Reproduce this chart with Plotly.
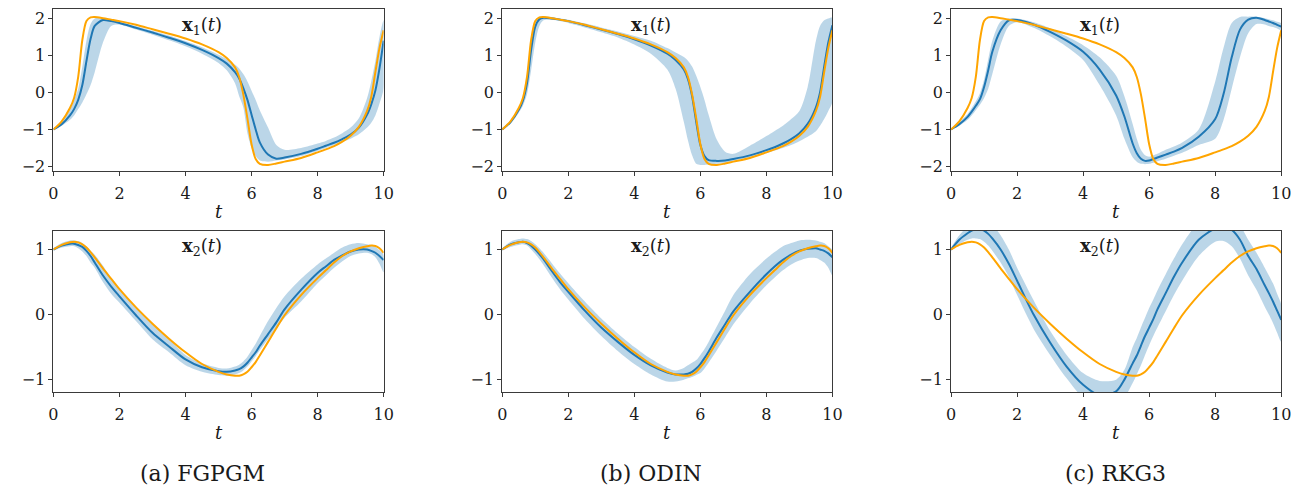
import plotly.graph_objects as go

# time grid shared by every series (denser where the trajectories switch quickly)
T = [0, 0.25, 0.5, 0.625, 0.75, 0.875, 1.0, 1.125, 1.25, 1.5,
     1.75, 2, 2.5, 3, 3.5, 4, 4.5, 5, 5.25, 5.5,
     5.625, 5.75, 5.875, 6, 6.125, 6.25, 6.5, 6.75, 7, 7.5,
     8, 8.25, 8.5, 8.75, 9, 9.25, 9.5, 9.625, 9.75, 9.875, 10]

# ground-truth trajectory
true_x1 = [-1.0, -0.78, -0.42, -0.15, 0.42, 1.42, 1.93, 2.03, 2.04, 2.01,
           1.97, 1.93, 1.83, 1.71, 1.59, 1.46, 1.3, 1.09, 0.93, 0.68,
           0.42, -0.05, -0.7, -1.4, -1.8, -1.93, -1.96, -1.92, -1.87, -1.77,
           -1.62, -1.54, -1.45, -1.33, -1.17, -0.93, -0.5, -0.12, 0.55, 1.2, 1.68]
true_x2 = [1.0, 1.07, 1.11, 1.12, 1.11, 1.08, 1.03, 0.96, 0.88, 0.71,
           0.55, 0.39, 0.11, -0.14, -0.37, -0.58, -0.76, -0.88, -0.92, -0.94,
           -0.94, -0.92, -0.88, -0.81, -0.73, -0.63, -0.42, -0.21, -0.01, 0.3,
           0.56, 0.68, 0.8, 0.9, 0.97, 1.02, 1.05, 1.06, 1.055, 1.02, 0.95]

# FGPGM: mean and interval
fgpgm_x1 = [-1.0, -0.86, -0.62, -0.45, -0.2, 0.2, 0.85, 1.45, 1.8, 1.96,
            1.93, 1.88, 1.75, 1.62, 1.48, 1.33, 1.15, 0.93, 0.78, 0.55,
            0.38, 0.12, -0.2, -0.6, -1.0, -1.35, -1.68, -1.79, -1.76, -1.66,
            -1.52, -1.44, -1.36, -1.26, -1.14, -0.95, -0.6, -0.32, 0.05, 0.65, 1.4]
fgpgm_x1_lo = [-1.0, -0.9, -0.74, -0.62, -0.45, -0.27, -0.05, 0.2, 0.55, 1.35,
               1.8, 1.84, 1.7, 1.56, 1.41, 1.25, 1.05, 0.8, 0.6, 0.25,
               -0.1, -0.4, -1.1, -1.5, -1.72, -1.84, -1.87, -1.84, -1.81, -1.72,
               -1.58, -1.5, -1.42, -1.34, -1.25, -1.13, -0.95, -0.82, -0.62, -0.3, 0.1]
fgpgm_x1_hi = [-1.0, -0.78, -0.45, -0.2, 0.1, 0.7, 1.4, 1.85, 2.0, 2.0,
               1.97, 1.92, 1.79, 1.67, 1.54, 1.39, 1.22, 1.02, 0.9, 0.75,
               0.65, 0.5, 0.3, 0.05, -0.2, -0.48, -0.95, -1.42, -1.55, -1.5,
               -1.38, -1.31, -1.22, -1.1, -0.95, -0.7, -0.15, 0.3, 0.85, 1.5, 1.95]
fgpgm_x2 = [1.0, 1.06, 1.09, 1.09, 1.07, 1.04, 0.98, 0.9, 0.8, 0.6,
            0.43, 0.28, -0.01, -0.28, -0.49, -0.69, -0.81, -0.87, -0.88, -0.86,
            -0.84, -0.8, -0.74, -0.66, -0.58, -0.48, -0.3, -0.12, 0.08, 0.38,
            0.64, 0.74, 0.84, 0.91, 0.97, 1.0, 1.0, 0.98, 0.95, 0.9, 0.84]
fgpgm_x2_lo = [0.98, 1.03, 1.05, 1.05, 1.02, 0.97, 0.9, 0.8, 0.72, 0.5,
               0.32, 0.18, -0.1, -0.38, -0.58, -0.78, -0.88, -0.93, -0.94, -0.92,
               -0.9, -0.86, -0.8, -0.72, -0.64, -0.55, -0.38, -0.22, -0.05, 0.2,
               0.48, 0.6, 0.72, 0.82, 0.9, 0.94, 0.95, 0.93, 0.88, 0.78, 0.65]
fgpgm_x2_hi = [1.02, 1.1, 1.14, 1.14, 1.13, 1.1, 1.05, 0.98, 0.92, 0.75,
               0.55, 0.38, 0.1, -0.15, -0.38, -0.62, -0.75, -0.82, -0.83, -0.8,
               -0.77, -0.72, -0.65, -0.55, -0.45, -0.33, -0.1, 0.1, 0.28, 0.55,
               0.77, 0.86, 0.95, 1.03, 1.08, 1.1, 1.08, 1.07, 1.04, 0.99, 0.92]

# ODIN: mean and interval
odin_x1 = [-1.0, -0.8, -0.47, -0.22, 0.25, 1.15, 1.78, 1.98, 2.02, 2.0,
           1.97, 1.93, 1.82, 1.7, 1.58, 1.44, 1.27, 1.05, 0.88, 0.62,
           0.36, -0.1, -0.8, -1.42, -1.72, -1.83, -1.85, -1.84, -1.8, -1.7,
           -1.56, -1.48, -1.38, -1.26, -1.1, -0.85, -0.4, 0.0, 0.7, 1.35, 1.82]
odin_x1_lo = [-1.0, -0.85, -0.55, -0.36, -0.05, 0.6, 1.35, 1.8, 1.95, 1.97,
              1.93, 1.88, 1.76, 1.63, 1.49, 1.3, 1.05, 0.62, 0.1, -0.8,
              -1.3, -1.7, -1.93, -1.96, -1.96, -1.95, -1.93, -1.9, -1.85, -1.76,
              -1.64, -1.57, -1.5, -1.42, -1.32, -1.2, -1.05, -0.9, -0.72, -0.5, -0.25]
odin_x1_hi = [-1.0, -0.76, -0.4, -0.12, 0.48, 1.5, 1.95, 2.05, 2.06, 2.04,
              2.0, 1.97, 1.87, 1.76, 1.65, 1.53, 1.4, 1.2, 1.08, 0.96,
              0.86, 0.7, 0.45, 0.15, -0.2, -0.6, -1.28, -1.6, -1.66, -1.44,
              -1.18, -1.04, -0.9, -0.72, -0.5, 0.15, 1.4, 1.8, 1.95, 2.0, 2.02]
odin_x2 = [1.0, 1.08, 1.11, 1.12, 1.1, 1.06, 1.0, 0.93, 0.85, 0.67,
           0.5, 0.35, 0.06, -0.2, -0.42, -0.62, -0.78, -0.89, -0.92, -0.92,
           -0.91, -0.88, -0.83, -0.76, -0.67, -0.57, -0.35, -0.15, 0.05, 0.35,
           0.62, 0.74, 0.84, 0.92, 0.98, 1.01, 1.02, 1.0, 0.98, 0.94, 0.88]
odin_x2_lo = [0.98, 1.04, 1.07, 1.08, 1.06, 1.0, 0.93, 0.85, 0.76, 0.57,
              0.39, 0.23, -0.07, -0.33, -0.56, -0.76, -0.92, -1.03, -1.03, -1.0,
              -0.98, -0.96, -0.93, -0.9, -0.83, -0.74, -0.55, -0.35, -0.15, 0.17,
              0.45, 0.57, 0.68, 0.77, 0.83, 0.87, 0.87, 0.84, 0.8, 0.72, 0.6]
odin_x2_hi = [1.02, 1.12, 1.16, 1.17, 1.16, 1.13, 1.08, 1.02, 0.95, 0.79,
              0.63, 0.48, 0.2, -0.06, -0.29, -0.5, -0.68, -0.82, -0.86, -0.82,
              -0.78, -0.74, -0.7, -0.62, -0.53, -0.42, -0.18, 0.06, 0.3, 0.62,
              0.86, 0.96, 1.05, 1.1, 1.14, 1.15, 1.14, 1.12, 1.1, 1.05, 0.99]

# RKG3: mean and interval
rkg3_x1 = [-1.0, -0.86, -0.66, -0.52, -0.36, -0.18, 0.15, 0.6, 1.1, 1.68,
           1.95, 1.96, 1.84, 1.64, 1.4, 1.1, 0.62, -0.08, -0.65, -1.38,
           -1.64, -1.79, -1.85, -1.84, -1.8, -1.76, -1.68, -1.6, -1.5, -1.2,
           -0.72, -0.05, 0.95, 1.7, 1.97, 2.02, 1.96, 1.92, 1.88, 1.83, 1.78]
rkg3_x1_lo = [-1.0, -0.9, -0.74, -0.62, -0.48, -0.33, -0.15, 0.1, 0.5, 1.3,
              1.8, 1.9, 1.75, 1.52, 1.24, 0.88, 0.2, -0.62, -1.25, -1.75,
              -1.87, -1.93, -1.94, -1.93, -1.9, -1.86, -1.79, -1.71, -1.63, -1.42,
              -1.25, -0.75, 0.1, 0.95, 1.6, 1.85, 1.84, 1.8, 1.77, 1.73, 1.68]
rkg3_x1_hi = [-1.0, -0.8, -0.58, -0.42, -0.24, -0.02, 0.35, 0.9, 1.4, 1.92,
              2.0, 2.0, 1.9, 1.74, 1.52, 1.28, 0.95, 0.45, -0.1, -0.85,
              -1.25, -1.55, -1.7, -1.74, -1.7, -1.66, -1.55, -1.46, -1.35, -1.0,
              0.3, 1.2, 1.88, 2.04, 2.05, 2.05, 2.01, 1.98, 1.95, 1.91, 1.87]
rkg3_x2 = [1.0, 1.15, 1.25, 1.29, 1.31, 1.31, 1.29, 1.24, 1.17, 1.0,
           0.78, 0.52, 0.0, -0.43, -0.8, -1.08, -1.24, -1.18, -1.0, -0.75,
           -0.63, -0.48, -0.33, -0.2, -0.07, 0.08, 0.33, 0.58, 0.8, 1.15,
           1.32, 1.33, 1.3, 1.15, 0.9, 0.7, 0.45, 0.33, 0.2, 0.06, -0.08]
rkg3_x2_lo = [0.98, 1.08, 1.15, 1.17, 1.17, 1.16, 1.12, 1.06, 0.98, 0.8,
              0.58, 0.3, -0.22, -0.62, -0.98, -1.28, -1.42, -1.4, -1.28, -1.05,
              -0.92, -0.78, -0.62, -0.47, -0.33, -0.2, 0.05, 0.3, 0.52, 0.9,
              1.12, 1.13, 1.05, 0.86, 0.6, 0.38, 0.12, 0.0, -0.13, -0.28, -0.42]
rkg3_x2_hi = [1.03, 1.22, 1.35, 1.4, 1.43, 1.45, 1.45, 1.42, 1.38, 1.22,
              1.0, 0.72, 0.22, -0.25, -0.62, -0.9, -1.02, -1.0, -0.85, -0.5,
              -0.36, -0.2, -0.05, 0.1, 0.23, 0.37, 0.62, 0.86, 1.08, 1.42,
              1.55, 1.56, 1.53, 1.38, 1.15, 0.95, 0.72, 0.6, 0.48, 0.32, 0.15]

methods = ["FGPGM", "ODIN", "RKG3"]
captions = ["(a) FGPGM", "(b) ODIN", "(c) RKG3"]
caption_x = [200, 653, 1123]
x_ticks = [0, 2, 4, 6, 8, 10]
y1_ticks = [-2, -1, 0, 1, 2]
y2_ticks = [-1, 0, 1]

series = {
    "FGPGM": [(fgpgm_x1, fgpgm_x1_lo, fgpgm_x1_hi), (fgpgm_x2, fgpgm_x2_lo, fgpgm_x2_hi)],
    "ODIN": [(odin_x1, odin_x1_lo, odin_x1_hi), (odin_x2, odin_x2_lo, odin_x2_hi)],
    "RKG3": [(rkg3_x1, rkg3_x1_lo, rkg3_x1_hi), (rkg3_x2, rkg3_x2_lo, rkg3_x2_hi)],
}
truth = [true_x1, true_x2]

W, H = 1312, 493
BLUE = "#1f77b4"
ORANGE = "#ffa500"
BAND = "rgba(31,119,180,0.3)"
FRAME = "#3a3a3a"
FONT = "DejaVu Serif, Liberation Serif, serif"
TXT = "#1a1a1a"

col_px = [(49, 383), (503, 837), (957, 1291)]
row_px = [(9, 173), (233, 396)]
y_ranges = [[-2.13, 2.26], [-1.19, 1.29]]


def fmt(v):
    return str(v).replace("-", "\u2212")


fig = go.Figure()
layout = {}
annotations = []

for c, m in enumerate(methods):
    for r in range(2):
        idx = r * 3 + c + 1
        xa = "x" if idx == 1 else f"x{idx}"
        ya = "y" if idx == 1 else f"y{idx}"
        mean, lo, hi = series[m][r]
        fig.add_trace(go.Scatter(
            x=T + T[::-1], y=hi + lo[::-1], fill="toself", fillcolor=BAND,
            line=dict(width=0, shape="spline", smoothing=0.8), mode="lines",
            hoverinfo="skip", showlegend=False, xaxis=xa, yaxis=ya))
        fig.add_trace(go.Scatter(
            x=T, y=mean, mode="lines",
            line=dict(color=BLUE, width=2, shape="spline", smoothing=0.8),
            showlegend=False, xaxis=xa, yaxis=ya))
        fig.add_trace(go.Scatter(
            x=T, y=truth[r], mode="lines",
            line=dict(color=ORANGE, width=2, shape="spline", smoothing=0.8),
            showlegend=False, xaxis=xa, yaxis=ya))

        x0, x1 = col_px[c]
        top, bot = row_px[r]
        yt = y1_ticks if r == 0 else y2_ticks
        axis_common = dict(showline=True, mirror=True, linecolor=FRAME, linewidth=1,
                           ticks="outside", ticklen=4, tickwidth=1, tickcolor=FRAME,
                           showgrid=False, zeroline=False,
                           tickfont=dict(family=FONT, size=16, color=TXT))
        layout["xaxis" if idx == 1 else f"xaxis{idx}"] = dict(
            domain=[x0 / W, x1 / W], range=[0, 10], anchor=ya,
            tickvals=x_ticks, ticktext=[fmt(v) for v in x_ticks],
            ticklabelstandoff=4, **axis_common)
        layout["yaxis" if idx == 1 else f"yaxis{idx}"] = dict(
            domain=[(H - bot) / H, (H - top) / H], range=y_ranges[r], anchor=xa,
            tickvals=yt, ticktext=[fmt(v) for v in yt], **axis_common)

        # panel label inside the axes
        sub = "1" if r == 0 else "2"
        annotations.append(dict(
            text=f"<b>x</b><sub>{sub}</sub>(<i>t</i>)", x=4.5, xref=xa,
            y=(H - (top + 17)) / H, yref="paper", showarrow=False,
            xanchor="center", yanchor="middle",
            font=dict(family=FONT, size=18, color=TXT)))
        # time axis label
        annotations.append(dict(
            text="<i>t</i>", x=(x0 + x1) / 2 / W, y=(H - (bot + 41)) / H,
            xref="paper", yref="paper", showarrow=False,
            xanchor="center", yanchor="middle",
            font=dict(family=FONT, size=18, color=TXT)))

    annotations.append(dict(
        text=captions[c], x=caption_x[c] / W, y=(H - 478) / H,
        xref="paper", yref="paper", showarrow=False,
        xanchor="center", yanchor="middle",
        font=dict(family=FONT, size=22, color=TXT)))

fig.update_layout(
    width=W, height=H, margin=dict(l=0, r=0, t=0, b=0),
    paper_bgcolor="white", plot_bgcolor="white",
    annotations=annotations, **layout)

fig.write_html("out.html")
